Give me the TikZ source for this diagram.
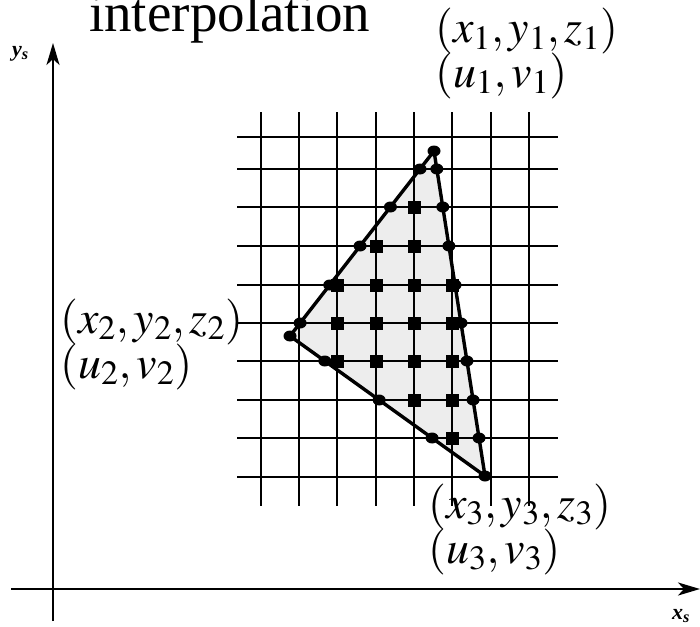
\documentclass[tikz,border=0pt]{standalone}
\usepackage{mathptmx}
\usepackage[no-math]{fontspec}
\setmainfont{Liberation Serif}
\usetikzlibrary{calc,arrows.meta}

\begin{document}
\begin{tikzpicture}[x=1pt,y=-1pt,
    gridline/.style={line width=2.4pt},
    axisline/.style={line width=2.4pt,-{Stealth[length=22pt,width=13pt,inset=6pt]}},
    edgedot/.style={black},
    gridsq/.style={black},
    lbl/.style={inner sep=0pt,anchor=base west,font=\fontsize{46}{46}\selectfont}]
        \useasboundingbox (0,0) rectangle (700,626);
        % title
        \node[inner sep=0pt,anchor=base west,font=\fontsize{55}{55}\selectfont] (title) at (89,31) {interpolation};
        % axes
        \coordinate (Ybot) at (53,621);
        \coordinate (Ytop) at (53,43);
        \coordinate (Xleft) at (11,589);
        \coordinate (Xright) at (700,589);
        \draw[axisline] (Ybot) -- (Ytop);
        \draw[axisline] (Xleft) -- (Xright);
        \node[inner sep=0pt,anchor=west,font=\fontsize{22}{22}\selectfont\bfseries\itshape] (ylab) at (12,54) {y\textsubscript{s}};
        \node[inner sep=0pt,anchor=west,font=\fontsize{22}{22}\selectfont\bfseries\itshape] (xlab) at (672,616) {x\textsubscript{s}};
        % triangle vertices
        \coordinate (A) at (434,151);
        \coordinate (B) at (290,336);
        \coordinate (C) at (485,476);
        \fill[black!7] (A) -- (B) -- (C) -- cycle;
        % pixel grid
        \foreach \y in {137,169,207,246,285,323,361,400,438,477}
            \draw[gridline] (237,\y) -- (558,\y);
        \foreach \x in {261,299,337,376,414,452,491,529}
            \draw[gridline] (\x,112) -- (\x,506);
        % edges
        \draw[line width=3.4pt,line join=round] (A) -- (B) -- (C) -- cycle;
        % pixels inside
        \foreach \x/\y in {414/207, 376/246,414/246,
                           337/285,376/285,414/285,452/285,
                           337/323,376/323,414/323,452/323,
                           337/361,376/361,414/361,452/361,
                           414/400,452/400, 452/438}
            \fill[gridsq] (\x-6.5,\y-6.5) rectangle +(13,13);
        % scanline crossings on the edges
        \foreach \y in {169,207,246,285,323}
            \fill[edgedot] ($(A)!{(\y-151)/185}!(B)$) ellipse (6.5 and 5.5);
        \foreach \y in {169,207,246,285,323,361,400,438}
            \fill[edgedot] ($(A)!{(\y-151)/325}!(C)$) ellipse (6.5 and 5.5);
        \foreach \y in {361,400,438}
            \fill[edgedot] ($(B)!{(\y-336)/140}!(C)$) ellipse (6.5 and 5.5);
        \fill[edgedot] (A) ellipse (6.5 and 5.5);
        \fill[edgedot] (B) ellipse (6.5 and 5.5);
        \fill[edgedot] (C) ellipse (6.5 and 5.5);
        % vertex labels
        \node[lbl] (p1) at (435,43) {$(x_1, y_1, z_1)$};
        \node[lbl] (t1) at (435,87) {$(u_1, v_1)$};
        \node[lbl] (p2) at (60,333) {$(x_2, y_2, z_2)$};
        \node[lbl] (t2) at (60,378) {$(u_2, v_2)$};
        \node[lbl] (p3) at (428,518) {$(x_3, y_3, z_3)$};
        \node[lbl] (t3) at (428,563) {$(u_3, v_3)$};
    \end{tikzpicture}
\end{document}
